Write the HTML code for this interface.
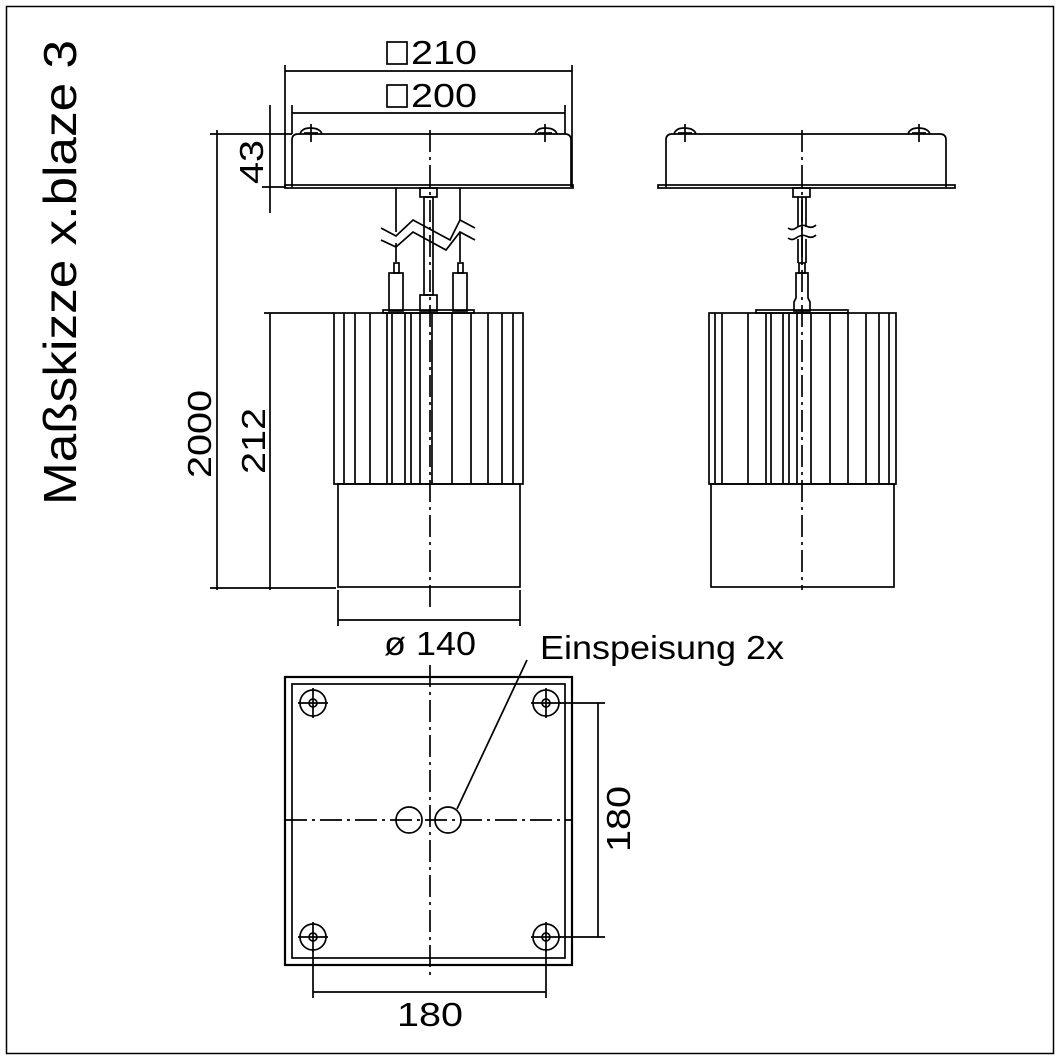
<!DOCTYPE html>
<html><head><style>body{margin:0;background:#fff}svg{display:block}text{font-family:"Liberation Sans",sans-serif;fill:#000}</style></head>
<body>
<svg width="1061" height="1061" viewBox="0 0 1061 1061" xmlns="http://www.w3.org/2000/svg">
<rect x="0" y="0" width="1061" height="1061" fill="#fff"/>
<rect x="6.5" y="6.5" width="1047" height="1047" fill="none" stroke="#000" stroke-width="1.5"/>
<text transform="translate(76,505) rotate(-90)" font-size="46" textLength="465" lengthAdjust="spacingAndGlyphs">Maßskizze x.blaze 3</text>
<g stroke="#000" fill="none" stroke-width="1.7">
<line x1="285" y1="71" x2="572" y2="71"/>
<line x1="292" y1="113" x2="565" y2="113"/>
<line x1="285" y1="65" x2="285" y2="187"/>
<line x1="572" y1="65" x2="572" y2="187"/>
<line x1="292" y1="105" x2="292" y2="134"/>
<line x1="565" y1="105" x2="565" y2="134"/>
<rect x="387" y="42" width="20" height="22"/>
<rect x="387" y="85" width="20" height="22"/>
<line x1="270" y1="105" x2="270" y2="213"/>
<line x1="210" y1="134" x2="292" y2="134"/>
<line x1="262" y1="187" x2="285" y2="187"/>
<line x1="217" y1="130" x2="217" y2="590"/>
<line x1="210" y1="588" x2="336" y2="588"/>
<line x1="270" y1="313" x2="270" y2="590"/>
<line x1="264" y1="313" x2="334" y2="313"/>
<path d="M292 187 V140 Q292 134 298 134 H565 Q571 134 571 140 V187"/>
<path d="M300 134 Q302 128 310 128 Q320 128 322 134 M535 134 Q537 128 545 128 Q555 128 557 134"/>
<line x1="311" y1="124" x2="311" y2="142"/><line x1="304" y1="133" x2="318" y2="133"/>
<line x1="545" y1="124" x2="545" y2="142"/><line x1="538" y1="133" x2="552" y2="133"/>
<rect x="285" y="185" width="288" height="3"/>
<rect x="420" y="188" width="17" height="9"/>
<rect x="424" y="197" width="9" height="98"/>
<rect x="420" y="295" width="17" height="16"/>
<line x1="396" y1="188" x2="396" y2="232"/><line x1="396" y1="243" x2="396" y2="262"/>
<line x1="460" y1="188" x2="460" y2="220"/><line x1="460" y1="232" x2="460" y2="262"/>
<path d="M381 228 L396 236 L413 220 L450 240 L460 220 L475 228"/>
<path d="M381 240 L396 247 L413 232 L446 250 L460 232 L475 240"/>
<rect x="394" y="263" width="5" height="10"/><rect x="389" y="273" width="14" height="38"/>
<rect x="458" y="263" width="5" height="10"/><rect x="453" y="273" width="14" height="38"/>
<rect x="383" y="310" width="91" height="3"/>
<rect x="334" y="313" width="189" height="171"/>
<path d="M344 313V484M355 313V484M370 313V484M387 313V484M392 313V484M405 313V484M411 313V484M420 313V484M432 313V484M452 313V484M471 313V484M488 313V484M502 313V484M513 313V484"/>
<rect x="338" y="484" width="182" height="103"/>
<line x1="430" y1="130" x2="430" y2="612" stroke-dasharray="22 5 3 5"/>
<line x1="338" y1="620" x2="520" y2="620"/>
<line x1="338" y1="590" x2="338" y2="626"/>
<line x1="520" y1="590" x2="520" y2="626"/>
<path d="M666 187 V140 Q666 134 672 134 H940 Q946 134 946 140 V187"/>
<path d="M674 134 Q676 128 684 128 Q694 128 696 134 M908 134 Q910 128 918 128 Q928 128 930 134"/>
<line x1="685" y1="124" x2="685" y2="142"/><line x1="678" y1="133" x2="692" y2="133"/>
<line x1="919" y1="124" x2="919" y2="142"/><line x1="912" y1="133" x2="926" y2="133"/>
<rect x="658" y="185" width="297" height="3"/>
<rect x="793" y="188" width="17" height="9"/>
<path d="M798 197V227M806 197V227M798 239V263M806 239V263M802 197V263"/>
<path d="M788 228 q4 3 8 0 q6 -4 10 -2 q6 3 10 -1 M788 238 q4 3 8 0 q6 -4 10 -2 q6 3 10 -1"/>
<rect x="799" y="263" width="6" height="10"/>
<path d="M796 273 H808 V298 L810 302 V311 H794 V302 L796 298 Z"/>
<rect x="756" y="310" width="92" height="3"/>
<rect x="709" y="313" width="187" height="171"/>
<path d="M715 313V484M722 313V484M748 313V484M766 313V484M771 313V484M783 313V484M789 313V484M797 313V484M811 313V484M830 313V484M848 313V484M866 313V484M879 313V484M889 313V484"/>
<rect x="711" y="484" width="183" height="103"/>
<line x1="802" y1="130" x2="802" y2="590" stroke-dasharray="22 5 3 5"/>
<rect x="285" y="677" width="287" height="288" stroke-width="2.2"/>
<rect x="292" y="684" width="273" height="274"/>
<line x1="430" y1="665" x2="430" y2="975" stroke-dasharray="22 5 3 5"/>
<line x1="285" y1="820" x2="572" y2="820" stroke-dasharray="22 5 3 5"/>
<circle cx="409" cy="820" r="13"/><circle cx="448" cy="820" r="13"/>
<line x1="457" y1="809" x2="527" y2="660"/>
<g id="h"><circle cx="313" cy="703" r="13"/><circle cx="313" cy="703" r="4"/><line x1="298" y1="703" x2="328" y2="703"/><line x1="313" y1="688" x2="313" y2="718"/></g>
<use href="#h" x="233"/><use href="#h" y="234"/><use href="#h" x="233" y="234"/>
<line x1="598" y1="703" x2="598" y2="937"/>
<line x1="560" y1="703" x2="605" y2="703"/>
<line x1="560" y1="937" x2="605" y2="937"/>
<line x1="313" y1="992" x2="546" y2="992"/>
<line x1="313" y1="950" x2="313" y2="998"/>
<line x1="546" y1="950" x2="546" y2="998"/>
</g>
<g font-size="33">
<text x="411" y="64" textLength="66" lengthAdjust="spacingAndGlyphs">210</text>
<text x="411" y="107" textLength="66" lengthAdjust="spacingAndGlyphs">200</text>
<text transform="translate(263,184) rotate(-90)" textLength="44" lengthAdjust="spacingAndGlyphs">43</text>
<text transform="translate(211,478) rotate(-90)" textLength="88" lengthAdjust="spacingAndGlyphs">2000</text>
<text transform="translate(265,474) rotate(-90)" textLength="66" lengthAdjust="spacingAndGlyphs">212</text>
<text x="384" y="655" textLength="92" lengthAdjust="spacingAndGlyphs">ø 140</text>
<text x="540" y="659" textLength="244" lengthAdjust="spacingAndGlyphs">Einspeisung 2x</text>
<text transform="translate(630,852) rotate(-90)" textLength="66" lengthAdjust="spacingAndGlyphs">180</text>
<text x="397" y="1026" textLength="66" lengthAdjust="spacingAndGlyphs">180</text>
</g>
</svg>
</body></html>
